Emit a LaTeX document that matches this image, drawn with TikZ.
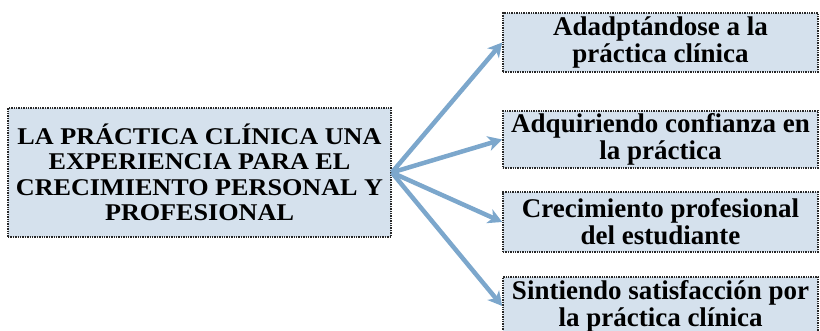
\documentclass[tikz,border=0pt]{standalone}
\usepackage{fontspec}
\setmainfont{Liberation Serif}
\newfontfamily\widefont{Liberation Serif}[FakeStretch=1.09]
\usetikzlibrary{arrows.meta}
\definecolor{boxfill}{RGB}{213,225,237}
\definecolor{boxline}{RGB}{40,40,40}
\definecolor{arrowblue}{RGB}{124,167,204}
\begin{document}
\begin{tikzpicture}[x=1pt,y=-1pt,
	box/.style={draw=boxline,fill=boxfill,line width=1.6pt,dash pattern=on 1.4pt off 1pt,
		inner sep=0pt,align=center,font=\bfseries},
	rootbox/.style={box,minimum width=383pt,minimum height=129pt,
		font=\widefont\bfseries\fontsize{24}{25.5}\selectfont},
	leafbox/.style={box,minimum width=315pt,
		font=\bfseries\fontsize{27}{27}\selectfont},
	flow/.style={arrowblue,line width=4.5pt,-{Stealth[length=14pt,width=15pt,inset=4pt]}}]
	\useasboundingbox (0,0) rectangle (820,331);
		\coordinate (rootpos) at (199.5,172.5);
		\coordinate (adaptpos) at (660.5,42.5);
		\coordinate (confpos) at (660.5,139.5);
		\coordinate (crecpos) at (660.5,222);
		\coordinate (satispos) at (660.5,306);

		\node [rootbox] (root) at (rootpos) {LA PRÁCTICA CLÍNICA UNA\\EXPERIENCIA PARA EL\\CRECIMIENTO PERSONAL Y\\PROFESIONAL};
\node [leafbox,minimum height=59pt] (adapt) at (adaptpos) {Adadptándose a la\\práctica clínica};
\node [leafbox,minimum height=57pt] (conf) at (confpos) {Adquiriendo confianza en\\la práctica};
\node [leafbox,minimum height=60pt] (crec) at (crecpos) {Crecimiento profesional\\del estudiante};
\node [leafbox,minimum height=58pt] (satis) at (satispos) {Sintiendo satisfacción por\\la práctica clínica};

		\draw [flow] (root.east) -- (adapt.west);
		\draw [flow] (root.east) -- (conf.west);
		\draw [flow] (root.east) -- (crec.west);
		\draw [flow] (root.east) -- (satis.west);
		\end{tikzpicture}
\end{document}
